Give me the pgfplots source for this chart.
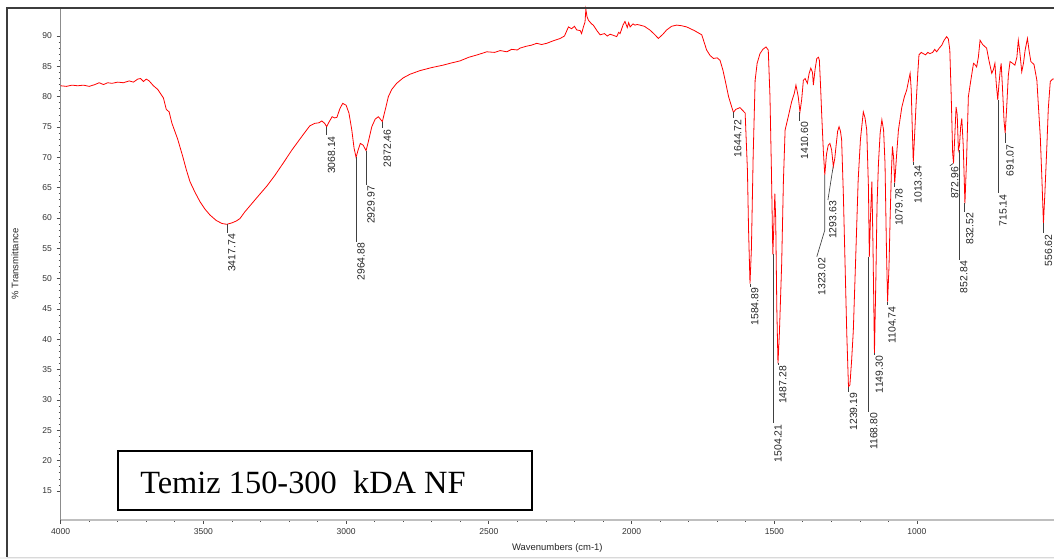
\documentclass[border=0pt]{standalone}
\usepackage{fontspec}
\setmainfont{Liberation Sans}
\newfontfamily\serifT{Liberation Serif}
\usepackage{pgfplots}
\pgfplotsset{compat=1.18}
\definecolor{specred}{RGB}{255,0,0}
\definecolor{framegray}{RGB}{60,60,60}
\newcommand{\pk}{\fontsize{7.8}{8}\selectfont}
\begin{document}
\begin{tikzpicture}
\path[use as bounding box] (-45.5pt,-29.25pt) rectangle (745pt,390pt);
\fill[black!6] (-45.5pt,-29.25pt) rectangle (745pt,-27.75pt);
\begin{axis}[
  at={(0,0)}, anchor=south west,
  scale only axis, width=745pt, height=384pt,
  x dir=reverse,
  xmin=520, xmax=4000, ymin=10.22, ymax=94.62,
  axis x line*=bottom, axis y line*=left,
  xtick={1000,1500,...,4000}, minor x tick num=4,
  ytick={15,20,...,90}, minor y tick num=4,
  tick align=outside,
  major tick length=3pt, minor tick length=1.5pt,
  every tick/.style={black!70, line width=0.5pt},
  x axis line style={draw=black!25, line width=1.6pt},
  y axis line style={draw=black!45, line width=0.7pt},
  /pgf/number format/1000 sep={},
  /pgf/number format/assume math mode=true,
  xticklabel style={font=\fontsize{6.4}{7}\selectfont, text=black!80},
  yticklabel style={font=\fontsize{6.4}{7}\selectfont, text=black!80},
  clip=false,
]
\addplot[specred, line width=0.6pt] coordinates {
(4000,81.8) (3980,81.7) (3960,81.9) (3940,81.8) (3920,81.9) (3900,81.7) (3880,82.0) (3865,82.3) (3850,82.0) (3835,82.3)
(3820,82.2) (3800,82.4) (3780,82.3) (3760,82.6) (3745,82.4) (3730,82.9) (3720,83.0) (3710,82.5) (3700,82.9) (3690,82.6)
(3675,81.8) (3660,81.2) (3650,80.5) (3640,79.8) (3630,77.9) (3620,77.5) (3610,75.6) (3600,74.3) (3590,73.0) (3572,70.1)
(3560,68.0) (3547,66.0) (3530,64.3) (3512,62.7) (3495,61.5) (3477,60.5) (3455,59.6) (3435,59.1) (3418,58.96) (3400,59.2)
(3385,59.5) (3372,59.9) (3355,61.0) (3337,62.0) (3310,63.5) (3277,65.3) (3250,67.0) (3221,69.0) (3190,71.2) (3162,73.0)
(3140,74.4) (3127,75.2) (3110,75.6) (3095,75.7) (3085,76.0) (3075,75.6) (3068,75.05) (3060,75.8) (3049,76.7) (3040,76.5)
(3032,76.6) (3022,78.0) (3012,78.9) (3000,78.6) (2990,77.3) (2980,74.5) (2972,71.5) (2965,70.0) (2958,71.2) (2950,72.3)
(2940,72.0) (2930,71.1) (2920,73.0) (2910,75.05) (2898,76.3) (2887,76.7) (2880,76.3) (2873,75.9) (2862,78.0) (2852,80.0)
(2840,81.2) (2823,82.2) (2800,83.1) (2776,83.7) (2741,84.3) (2700,84.8) (2660,85.2) (2636,85.5) (2601,85.9) (2570,86.5)
(2540,86.9) (2507,87.4) (2480,87.3) (2460,87.6) (2437,87.4) (2420,87.8) (2400,87.7) (2391,88.0) (2370,88.3) (2350,88.5)
(2332,88.8) (2315,88.6) (2297,88.8) (2275,89.2) (2250,89.6) (2235,90.0) (2221,91.5) (2210,91.2) (2200,91.6) (2192,91.0)
(2180,90.9) (2175,90.4) (2168,91.6) (2163,92.3) (2160,94.4) (2156,93.2) (2151,92.6) (2140,92.0) (2134,91.8) (2120,90.8)
(2110,90.2) (2095,90.4) (2085,90.0) (2075,90.3) (2063,90.1) (2052,89.9) (2045,90.6) (2040,90.4) (2030,91.8) (2023,92.4)
(2015,91.4) (2010,92.2) (2005,91.5) (1995,92.0) (1988,91.8) (1980,91.9) (1971,91.8) (1955,91.6) (1936,91.0) (1920,90.3)
(1906,89.6) (1890,90.3) (1877,91.0) (1860,91.6) (1842,91.8) (1825,91.7) (1807,91.5) (1780,90.9) (1754,90.2) (1737,87.7)
(1725,86.8) (1713,86.3) (1700,86.4) (1690,86.0) (1680,84.4) (1672,82.7) (1660,80.0) (1649,78.3) (1643,77.4) (1635,77.9)
(1620,78.2) (1610,77.7) (1602,77.3) (1594,67.9) (1590,58.0) (1585,49.2) (1580,55.0) (1574,70.0) (1567,82.7) (1560,85.5)
(1550,87.1) (1540,87.8) (1529,88.2) (1521,87.7) (1515,80.0) (1510,68.0) (1505,54.0) (1502,58.0) (1498,64.0) (1495,60.0)
(1491,45.0) (1487,36.05) (1482,41.0) (1474,52.5) (1468,66.0) (1462,74.5) (1451,76.7) (1439,79.2) (1430,80.5) (1424,81.9)
(1416,80.0) (1410,77.5) (1404,79.5) (1398,82.7) (1392,83.0) (1384,82.2) (1378,83.8) (1372,84.7) (1366,84.0) (1363,81.9)
(1357,84.5) (1351,86.3) (1345,86.5) (1342,86.0) (1338,82.0) (1334,77.3) (1328,71.0) (1323,67.1) (1317,70.5) (1311,72.0)
(1305,72.3) (1299,71.2) (1293,68.5) (1288,69.8) (1285,71.2) (1278,74.3) (1273,75.05) (1268,74.3) (1264,72.9) (1258,64.0)
(1252,52.5) (1246,41.0) (1240,32.2) (1235,32.5) (1229,36.5) (1223,41.5) (1215,53.0) (1206,66.3) (1198,73.0) (1188,77.5)
(1182,76.5) (1176,74.5) (1170,65.0) (1167,53.6) (1163,60.0) (1158,66.0) (1154,55.0) (1149,37.7) (1144,50.0) (1140,62.0)
(1135,69.0) (1129,74.0) (1123,76.2) (1117,74.5) (1112,69.0) (1107,55.0) (1103,46.2) (1098,52.0) (1094,60.2) (1090,67.0)
(1086,71.8) (1082,70.0) (1078,65.7) (1072,70.0) (1065,74.5) (1053,78.3) (1044,80.0) (1036,81.1) (1030,82.5) (1024,83.85)
(1020,81.0) (1018,77.3) (1013,69.2) (1008,74.0) (1003,78.9) (997,84.0) (993,86.9) (985,87.3) (978,87.1) (970,86.9)
(962,87.3) (955,87.1) (945,87.3) (938,87.8) (931,87.4) (922,88.0) (913,88.5) (905,89.3) (896,89.9) (890,89.5)
(885,87.7) (880,80.0) (875,70.7) (872,69.0) (868,73.0) (863,78.3) (859,77.0) (855,71.2) (851,72.0) (847,75.0)
(843,76.4) (838,72.0) (832,62.4) (826,70.0) (820,80.0) (812,82.5) (802,85.5) (797,85.3) (791,84.9) (785,86.5)
(779,89.3) (770,88.6) (763,88.3) (756,88.0) (748,86.0) (738,83.85) (732,84.5) (727,85.5) (722,82.0) (717,79.5)
(713,82.0) (708,84.5) (705,85.5) (700,81.0) (695,76.0) (691,74.0) (686,78.0) (680,83.5) (674,85.8) (665,85.5)
(657,85.2) (650,86.5) (645,89.3) (640,87.5) (633,84.1) (627,85.5) (621,87.7) (613,89.6) (607,87.5) (601,85.8)
(590,85.3) (580,82.7) (574,78.0) (568,73.4) (562,66.0) (557,59.1) (552,64.0) (545,71.8) (540,78.0) (533,82.5)
(525,82.9) (520,82.9)
};
% leader lines
\pgfplotsset{ldr/.style={black!75, line width=0.5pt}}
\addplot[ldr] coordinates {(3417.74,58.96) (3417.74,57.53)};
\addplot[ldr] coordinates {(3068.14,75.05) (3068.14,73.68)};
\addplot[ldr] coordinates {(2964.88,70.0) (2964.88,56.1)};
\addplot[ldr] coordinates {(2929.97,71.1) (2929.97,65.44)};
\addplot[ldr] coordinates {(2872.46,75.9) (2872.46,74.79)};
\addplot[ldr] coordinates {(1644.72,77.4) (1644.72,76.43)};
\addplot[ldr] coordinates {(1584.89,49.2) (1584.89,48.68)};
\addplot[ldr] coordinates {(1504.21,54.0) (1504.21,26.16)};
\addplot[ldr] coordinates {(1487.28,36.05) (1487.28,35.77)};
\addplot[ldr] coordinates {(1410.60,77.5) (1410.60,76.04)};
\addplot[ldr] coordinates {(1323.02,67.1) (1323.02,58.0) (1351,53.62)};
\addplot[ldr] coordinates {(1293.63,68.5) (1312,62.97)};
\addplot[ldr] coordinates {(1239.19,32.2) (1239.19,31.37)};
\addplot[ldr] coordinates {(1168.80,53.6) (1168.80,28.07)};
\addplot[ldr] coordinates {(1149.30,37.7) (1149.30,37.42)};
\addplot[ldr] coordinates {(1104.74,46.2) (1104.74,45.6)};
\addplot[ldr] coordinates {(1079.78,65.7) (1079.78,65.1)};
\addplot[ldr] coordinates {(1013.34,69.2) (1013.34,68.8)};
\addplot[ldr] coordinates {(872.96,69.0) (885,68.6)};
\addplot[ldr] coordinates {(852.84,71.2) (852.84,53.08)};
\addplot[ldr] coordinates {(832.52,62.4) (832.52,61.04)};
\addplot[ldr] coordinates {(715.14,79.5) (715.14,64.07)};
\addplot[ldr] coordinates {(691.07,74.0) (691.07,72.31)};
\addplot[ldr] coordinates {(556.62,59.1) (556.62,57.48)};
% peak labels
\tikzset{pl/.style={rotate=90, anchor=north east, font=\pk, inner sep=0.7pt, text=black!85}}
\node[pl] at (axis cs:3417.74,57.53) {3417.74};
\node[pl] at (axis cs:3068.14,73.68) {3068.14};
\node[pl] at (axis cs:2964.88,56.1) {2964.88};
\node[pl] at (axis cs:2929.97,65.44) {2929.97};
\node[pl] at (axis cs:2872.46,74.79) {2872.46};
\node[pl] at (axis cs:1644.72,76.43) {1644.72};
\node[pl] at (axis cs:1584.89,48.68) {1584.89};
\node[pl] at (axis cs:1504.21,26.16) {1504.21};
\node[pl] at (axis cs:1487.28,35.77) {1487.28};
\node[pl] at (axis cs:1410.60,76.04) {1410.60};
\node[pl] at (axis cs:1351,53.62) {1323.02};
\node[pl] at (axis cs:1312,62.97) {1293.63};
\node[pl] at (axis cs:1239.19,31.37) {1239.19};
\node[pl] at (axis cs:1168.80,28.07) {1168.80};
\node[pl] at (axis cs:1149.30,37.42) {1149.30};
\node[pl] at (axis cs:1104.74,45.6) {1104.74};
\node[pl] at (axis cs:1079.78,65.1) {1079.78};
\node[pl] at (axis cs:1013.34,68.8) {1013.34};
\node[pl] at (axis cs:885,68.6) {872.96};
\node[pl] at (axis cs:852.84,53.08) {852.84};
\node[pl] at (axis cs:832.52,61.04) {832.52};
\node[pl] at (axis cs:715.14,64.07) {715.14};
\node[pl] at (axis cs:691.07,72.31) {691.07};
\node[pl] at (axis cs:556.62,57.48) {556.62};
\end{axis}
% outer frame
\draw[framegray, line width=1.1pt] (746pt,384pt) -- (-40.3pt,384pt) -- (-40.3pt,-27.75pt);
\draw[black!15, line width=0.6pt] (-40.3pt,-27.75pt) -- (746pt,-27.75pt);
% axis labels
\node[rotate=90, font=\fontsize{7.1}{8}\selectfont, text=black!85] at (-34.3pt,192pt) {\% Transmittance};
\node[font=\fontsize{7.1}{8}\selectfont, text=black!85] at (372.5pt,-21pt) {Wavenumbers (cm-1)};
% sample box
\draw[black, line width=1.5pt] (43pt,7.5pt) rectangle (353.5pt,51.75pt);
\node[anchor=west, inner sep=0pt, font=\serifT\fontsize{24.3}{26}\selectfont] at (59.5pt,28.5pt) {Temiz 150-300\ \ kDA NF};
\end{tikzpicture}
\end{document}
